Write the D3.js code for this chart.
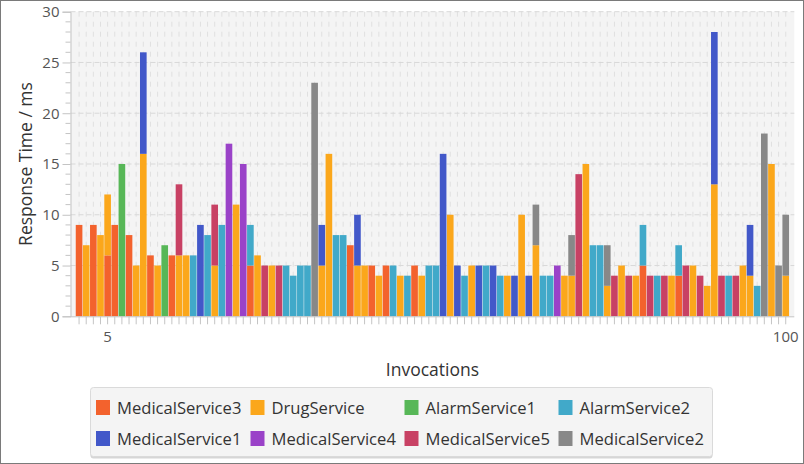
<!DOCTYPE html>
<html>
<head>
  <meta charset="utf-8">
  <title>Response Time per Invocation</title>
  <style>
    body { margin: 0; background: #ffffff; }
    svg text { font-family: "Open Sans", "Noto Sans", sans-serif; }
  </style>
</head>
<body>
  <script src="https://cdn.jsdelivr.net/npm/d3@7"></script>
  <script>
    // invocation numbers on the x axis
    var categories = [
      "1","2","3","4","5","6","7","8","9","10",
      "11","12","13","14","15","16","17","18","19","20",
      "21","22","23","24","25","26","27","28","29","30",
      "31","32","33","34","35","36","37","38","39","40",
      "41","42","43","44","45","46","47","48","49","50",
      "51","52","53","54","55","56","57","58","59","60",
      "61","62","63","64","65","66","67","68","69","70",
      "71","72","73","74","75","76","77","78","79","80",
      "81","82","83","84","85","86","87","88","89","90",
      "91","92","93","94","95","96","97","98","99","100"
    ];
    var tickLabels = ["5", "100"];
    var yTicks = [0, 5, 10, 15, 20, 25, 30];

    // response time (ms) per invocation, one array per service
    var medicalService3 = [
      9,0,9,0,6,9,0,8,0,0, 6,0,0,6,0,0,0,0,0,0, 0,0,0,0,5,0,0,0,0,0, 0,0,0,0,0,0,0,0,7,0,
      0,5,0,5,0,0,0,5,0,0, 0,0,0,0,0,0,0,0,0,0, 0,0,0,0,0,0,0,0,0,0, 0,0,0,0,0,0,0,0,0,5,
      0,0,0,0,4,0,0,0,0,0, 0,0,0,0,0,0,0,0,0,0
    ];
    var drugService = [
      0,7,0,8,6,0,0,0,5,16, 0,5,0,0,6,6,0,0,0,5, 0,0,11,0,0,6,0,5,0,0, 0,0,0,0,5,16,0,0,0,5,
      5,0,4,0,0,4,0,0,4,0, 0,0,10,0,0,5,0,0,0,0, 4,0,10,0,7,0,0,0,4,4, 0,15,0,0,3,0,5,0,4,0,
      0,0,0,4,0,0,5,0,3,13, 0,0,0,5,4,0,0,15,0,4
    ];
    var alarmService1 = [
      0,0,0,0,0,0,15,0,0,0, 0,0,7,0,0,0,0,0,0,0, 0,0,0,0,0,0,0,0,0,0, 0,0,0,0,0,0,0,0,0,0,
      0,0,0,0,0,0,0,0,0,0, 0,0,0,0,0,0,0,0,0,0, 0,0,0,0,0,0,0,0,0,0, 0,0,0,0,0,0,0,0,0,0,
      0,0,0,0,0,0,0,0,0,0, 0,0,0,0,0,0,0,0,0,0
    ];
    var alarmService2 = [
      0,0,0,0,0,0,0,0,0,0, 0,0,0,0,0,0,6,0,8,0, 9,0,0,0,4,0,0,0,0,5, 4,5,5,0,0,0,8,8,0,0,
      0,0,0,0,5,0,4,0,0,5, 5,0,0,0,4,0,0,5,0,4, 0,0,0,0,0,4,4,0,0,0, 0,0,7,7,0,0,0,0,0,4,
      0,4,0,0,3,0,0,0,0,0, 0,4,0,0,0,3,0,0,0,0
    ];
    var medicalService1 = [
      0,0,0,0,0,0,0,0,0,10, 0,0,0,0,0,0,0,9,0,0, 0,0,0,0,0,0,0,0,0,0, 0,0,0,0,4,0,0,0,0,5,
      0,0,0,0,0,0,0,0,0,0, 0,16,0,5,0,0,5,0,5,0, 0,4,0,4,0,0,0,0,0,0, 0,0,0,0,0,0,0,0,0,0,
      0,0,0,0,0,0,0,0,0,15, 0,0,0,0,5,0,0,0,0,0
    ];
    var medicalService4 = [
      0,0,0,0,0,0,0,0,0,0, 0,0,0,0,0,0,0,0,0,0, 0,17,0,15,0,0,0,0,0,0, 0,0,0,0,0,0,0,0,0,0,
      0,0,0,0,0,0,0,0,0,0, 0,0,0,0,0,0,0,0,0,0, 0,0,0,0,0,0,0,5,0,0, 0,0,0,0,0,0,0,0,0,0,
      0,0,0,0,0,0,0,0,0,0, 0,0,0,0,0,0,0,0,0,0
    ];
    var medicalService5 = [
      0,0,0,0,0,0,0,0,0,0, 0,0,0,0,7,0,0,0,0,6, 0,0,0,0,0,0,5,0,5,0, 0,0,0,0,0,0,0,0,0,0,
      0,0,0,0,0,0,0,0,0,0, 0,0,0,0,0,0,0,0,0,0, 0,0,0,0,0,0,0,0,0,0, 14,0,0,0,0,4,0,4,0,0,
      4,0,4,0,0,5,0,4,0,0, 4,0,4,0,0,0,0,0,0,0
    ];
    var medicalService2 = [
      0,0,0,0,0,0,0,0,0,0, 0,0,0,0,0,0,0,0,0,0, 0,0,0,0,0,0,0,0,0,0, 0,0,0,23,0,0,0,0,0,0,
      0,0,0,0,0,0,0,0,0,0, 0,0,0,0,0,0,0,0,0,0, 0,0,0,0,4,0,0,0,0,4, 0,0,0,0,4,0,0,0,0,0,
      0,0,0,0,0,0,0,0,0,0, 0,0,0,0,0,0,18,0,5,6
    ];

    var seriesNames = ["MedicalService3", "DrugService", "AlarmService1", "AlarmService2",
                       "MedicalService1", "MedicalService4", "MedicalService5", "MedicalService2"];
    var seriesValues = [medicalService3, drugService, alarmService1, alarmService2,
                        medicalService1, medicalService4, medicalService5, medicalService2];
    var colors = ["#f3622d", "#fba71b", "#57b757", "#41a9c9", "#4258c9", "#9a42c8", "#c84164", "#888888"];

    var width = 804, height = 464;
    var plot = {left: 70.5, right: 794.3, top: 11.7, bottom: 316.3};

    var svg = d3.select("body").append("svg")
      .attr("width", width)
      .attr("height", height);

    // window border
    svg.append("rect")
      .attr("x", 0.5).attr("y", 0.5)
      .attr("width", width - 1).attr("height", height - 1)
      .attr("fill", "#ffffff").attr("stroke", "#7a7a7a");

    // scales (category axis keeps 5px margins at both ends)
    var x = d3.scaleBand().domain(categories)
      .range([plot.left + 5, plot.right - 5]).padding(0);
    var y = d3.scaleLinear().domain([0, 30]).range([plot.bottom, plot.top]);

    // plot background
    svg.append("rect")
      .attr("x", plot.left).attr("y", plot.top)
      .attr("width", plot.right - plot.left).attr("height", plot.bottom - plot.top)
      .attr("fill", "#f4f4f4");

    // grid lines
    svg.append("g").selectAll("line")
      .data(categories).enter().append("line")
      .attr("x1", function(d) { return x(d) + x.bandwidth() / 2; })
      .attr("x2", function(d) { return x(d) + x.bandwidth() / 2; })
      .attr("y1", plot.top).attr("y2", plot.bottom)
      .attr("stroke", "#e0e0e0").attr("stroke-dasharray", "5,5");

    svg.append("g").selectAll("line")
      .data(yTicks.slice(1)).enter().append("line")
      .attr("x1", plot.left).attr("x2", plot.right)
      .attr("y1", function(d) { return y(d); })
      .attr("y2", function(d) { return y(d); })
      .attr("stroke", "#d8d8d8").attr("stroke-dasharray", "5,3");

    // stacked bars
    var table = categories.map(function(c, i) {
      var row = {cat: c};
      seriesNames.forEach(function(s, k) { row[s] = seriesValues[k][i]; });
      return row;
    });
    var stacked = d3.stack().keys(seriesNames)(table);

    svg.append("g").selectAll("g")
      .data(stacked).enter().append("g")
      .attr("fill", function(d, k) { return colors[k]; })
      .selectAll("rect")
      .data(function(d) { return d.filter(function(p) { return p[1] > p[0]; }); })
      .enter().append("rect")
      .attr("x", function(d) { return x(d.data.cat) + 0.25; })
      .attr("width", x.bandwidth() - 0.5)
      .attr("y", function(d) { return y(d[1]); })
      .attr("height", function(d) { return y(d[0]) - y(d[1]); });

    // y axis
    var yAxis = d3.axisLeft(y).tickValues(yTicks).tickSize(8).tickPadding(3);
    var gy = svg.append("g")
      .attr("transform", "translate(" + plot.left + ",0)")
      .call(yAxis);
    gy.select(".domain").attr("stroke", "#c4c4c4");
    gy.selectAll(".tick line").attr("stroke", "#c4c4c4");
    gy.selectAll(".tick text").attr("fill", "#555").style("font-size", "15px")
      .style("font-family", "'Open Sans', sans-serif");

    // minor ticks on y
    var minor = d3.range(0, 31).filter(function(v) { return v % 5 !== 0; });
    svg.append("g").selectAll("line")
      .data(minor).enter().append("line")
      .attr("x1", plot.left - 5).attr("x2", plot.left)
      .attr("y1", function(d) { return y(d); })
      .attr("y2", function(d) { return y(d); })
      .attr("stroke", "#c4c4c4");

    // x axis
    var xAxis = d3.axisBottom(x).tickSize(8).tickPadding(7)
      .tickFormat(function(d) { return tickLabels.indexOf(d) >= 0 ? d : ""; });
    var gx = svg.append("g")
      .attr("transform", "translate(0," + plot.bottom + ")")
      .call(xAxis);
    gx.select(".domain").attr("d", "M" + plot.left + ",0.5H" + plot.right).attr("stroke", "#c4c4c4");
    gx.selectAll(".tick line").attr("stroke", "#c4c4c4");
    gx.selectAll(".tick text").attr("fill", "#555").style("font-size", "15px")
      .style("font-family", "'Open Sans', sans-serif");

    // axis titles
    svg.append("text")
      .attr("transform", "translate(32," + ((plot.top + plot.bottom) / 2) + ") rotate(-90)")
      .attr("text-anchor", "middle")
      .attr("fill", "#333").style("font-size", "17.5px")
      .text("Response Time / ms");

    svg.append("text")
      .attr("x", (plot.left + plot.right) / 2).attr("y", 376)
      .attr("text-anchor", "middle")
      .attr("fill", "#333").style("font-size", "17.5px")
      .text("Invocations");

    // legend
    var legend = svg.append("g");
    legend.append("rect")
      .attr("x", 90.5).attr("y", 388.5).attr("width", 622).attr("height", 70)
      .attr("rx", 3).attr("fill", "#d6d6d6");
    legend.append("rect")
      .attr("x", 90.5).attr("y", 387.5).attr("width", 622).attr("height", 69)
      .attr("rx", 3).attr("fill", "#f4f4f4").attr("stroke", "#dadada");

    var colX = [96, 250.5, 404.5, 558.5];
    var rowY = [400, 431];
    var item = legend.selectAll("g.item")
      .data(seriesNames).enter().append("g")
      .attr("class", "item")
      .attr("transform", function(d, i) {
        return "translate(" + colX[i % 4] + "," + rowY[Math.floor(i / 4)] + ")";
      });
    item.append("rect")
      .attr("width", 14).attr("height", 15)
      .attr("fill", function(d, i) { return colors[i]; });
    item.append("text")
      .attr("x", 21).attr("y", 13.5)
      .attr("fill", "#333").style("font-size", "16.6px")
      .text(function(d) { return d; });
  </script>
</body>
</html>
